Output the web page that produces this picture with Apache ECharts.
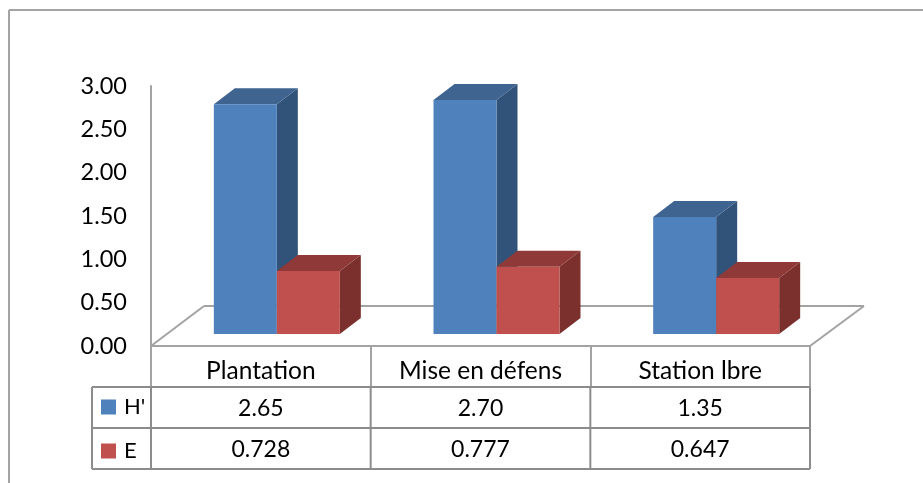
<!DOCTYPE html>
<html><head><meta charset="utf-8">
<style>html,body{margin:0;padding:0;background:#fff}#c{width:923px;height:483px}</style>
<script src="https://cdn.jsdelivr.net/npm/echarts@6/dist/echarts.min.js"></script>
</head><body><div id="c"></div>
<script>
const categories = ['Plantation', 'Mise en défens', 'Station lbre'];
const seriesNames = ["H'", 'E'];
const valuesH = [2.65, 2.70, 1.35];
const valuesE = [0.728, 0.777, 0.647];
const labelsH = ['2.65', '2.70', '1.35'];
const labelsE = ['0.728', '0.777', '0.647'];

const FONT = 'Lato';
const FLOOR_UP = 12, DX = 21, DY = 16, BAR_W = 63;
const ROW_H = 41;
const GREY = '#a3a3a3', DARK = '#8c8c8c';

function bar3d(offset, front, top, side) {
  return function (params, api) {
    const i = api.value(0), v = api.value(1);
    const base = api.coord([i, 0]), head = api.coord([i, v]);
    const x0 = base[0] + offset, x1 = x0 + BAR_W;
    const y0 = base[1] - FLOOR_UP, y1 = head[1] - FLOOR_UP;
    const poly = (pts, fill) => ({ type: 'polygon', shape: { points: pts }, style: { fill: fill } });
    return { type: 'group', children: [
      poly([[x1, y1], [x1 + DX, y1 - DY], [x1 + DX, y0 - DY], [x1, y0]], side),
      poly([[x0, y1], [x0 + DX, y1 - DY], [x1 + DX, y1 - DY], [x1, y1]], top),
      poly([[x0, y0], [x1, y0], [x1, y1], [x0, y1]], front)
    ]};
  };
}

function line(x1, y1, x2, y2, color) {
  return { type: 'line', shape: { x1, y1, x2, y2 }, style: { stroke: color, lineWidth: 2 }, silent: true };
}

function frameItem(params, api) {
  const o = api.coord([0, 0]);
  const band = api.size([1, 0])[0];
  const left = o[0] - band / 2, right = left + band * categories.length, y = o[1];
  const kids = [
    line(9, 483, 9, 10, GREY), line(9, 10, 923, 10, GREY),
    line(left, y, left + 53, y - 40, GREY),
    line(left + 53, y - 40, right + 54, y - 40, GREY),
    line(right + 54, y - 40, right, y, GREY)
  ];
  const legendX = left - 59;
  for (let r = 1; r <= 3; r++) kids.push(line(legendX, y + ROW_H * r, right, y + ROW_H * r, DARK));
  [legendX, left, left + band, left + band * 2, right].forEach(x => {
    kids.push(line(x, y + ROW_H, x, y + ROW_H * 3, DARK));
  });
  categories.forEach((c, i) => {
    const cx = api.coord([i, 0])[0];
    [labelsH[i], labelsE[i]].forEach((t, r) => {
      kids.push({ type: 'text', x: cx, y: y + ROW_H * (r + 1.5) + 1,
        style: { text: t, fill: '#000', font: '23px ' + FONT, align: 'center', verticalAlign: 'middle' } });
    });
  });
  return { type: 'group', children: kids };
}

const chart = echarts.init(document.getElementById('c'), null, { renderer: 'canvas' });
chart.setOption({
  animation: false,
  backgroundColor: '#fff',
  grid: { left: 151, top: 86, width: 659, height: 260 },
  legend: {
    data: seriesNames, orient: 'vertical', left: 101, top: 396, icon: 'rect',
    itemWidth: 15, itemHeight: 15, itemGap: 22, selectedMode: false, padding: 0,
    textStyle: { fontFamily: FONT, fontSize: 22, lineHeight: 20, color: '#000', padding: [0, 0, 0, 3] }
  },
  xAxis: {
    type: 'category', data: categories,
    axisLine: { lineStyle: { color: GREY, width: 2 } },
    axisTick: { show: true, length: 41, lineStyle: { color: GREY, width: 2 } },
    axisLabel: { color: '#000', fontFamily: FONT, fontSize: 24.5, margin: 13, interval: 0 }
  },
  yAxis: {
    type: 'value', min: 0, max: 3, interval: 0.5,
    splitLine: { show: false },
    axisTick: { show: false },
    axisLine: { show: true, lineStyle: { color: GREY, width: 2 } },
    axisLabel: { color: '#000', fontFamily: FONT, fontSize: 23.5, margin: 24, padding: [4, 0, 0, 0], formatter: v => v.toFixed(2) }
  },
  series: [
    { type: 'custom', name: 'frame', data: [[0]], renderItem: frameItem, clip: false, z: 1, silent: true,
      encode: { x: 0 } },
    { type: 'custom', name: seriesNames[0], itemStyle: { color: '#4f81bd' }, z: 2, clip: false,
      data: valuesH.map((v, i) => [i, v]), encode: { x: 0, y: 1 },
      renderItem: bar3d(-47, '#4f81bd', '#3f648f', '#325379') },
    { type: 'custom', name: seriesNames[1], itemStyle: { color: '#c0504d' }, z: 3, clip: false,
      data: valuesE.map((v, i) => [i, v]), encode: { x: 0, y: 1 },
      renderItem: bar3d(16, '#c0504d', '#8f3a38', '#7b302e') }
  ]
});
</script></body></html>
